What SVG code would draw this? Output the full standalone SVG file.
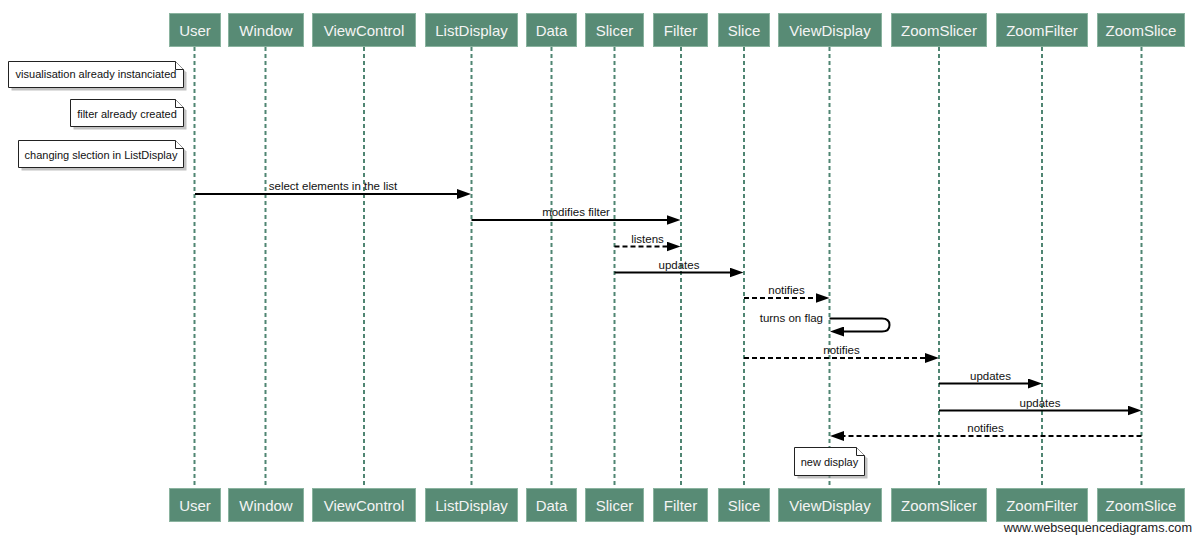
<svg xmlns="http://www.w3.org/2000/svg" width="1200" height="543" viewBox="0 0 1200 543">
<style>
.box{fill:#588b75;stroke:#8ab39f;stroke-width:1}
.ptxt{font-family:"Liberation Sans",Arial,sans-serif;font-size:15px;fill:#f4f4f4;text-anchor:middle}
.life{stroke:#4f8572;stroke-width:2;stroke-dasharray:4 3;fill:none}
.msg{stroke:#000;stroke-width:2;fill:none}
.dash{stroke-dasharray:5 3}
.lbl{font-family:"Liberation Sans",Arial,sans-serif;font-size:11.5px;fill:#111;text-anchor:middle}
.note{fill:#fff;stroke:#222;stroke-width:1}
.shadow{fill:#999;opacity:0.6}
.ntxt{font-family:"Liberation Sans",Arial,sans-serif;font-size:11px;fill:#111;text-anchor:middle}
.wm{font-family:"Liberation Sans",Arial,sans-serif;font-size:12.7px;fill:#222;text-anchor:end}
</style>
<defs>
<marker id="ah" markerUnits="userSpaceOnUse" markerWidth="14" markerHeight="10" viewBox="0 0 14 10" refX="4" refY="5" orient="auto">
<path d="M0,0 L14,5 L0,10 z" fill="#000"/>
</marker>
</defs>
<rect width="1200" height="543" fill="#fff"/>

<g id="User"><line class="life" x1="194.5" y1="47" x2="194.5" y2="488"/><rect class="box" x="169.5" y="13.5" width="51" height="33"/><text class="ptxt" x="195" y="35.5">User</text><rect class="box" x="169.5" y="488.5" width="51" height="33"/><text class="ptxt" x="195" y="510.5">User</text></g>
<g id="Window"><line class="life" x1="265.5" y1="47" x2="265.5" y2="488"/><rect class="box" x="228.5" y="13.5" width="75" height="33"/><text class="ptxt" x="266" y="35.5">Window</text><rect class="box" x="228.5" y="488.5" width="75" height="33"/><text class="ptxt" x="266" y="510.5">Window</text></g>
<g id="ViewControl"><line class="life" x1="364" y1="47" x2="364" y2="488"/><rect class="box" x="312.5" y="13.5" width="103" height="33"/><text class="ptxt" x="364" y="35.5">ViewControl</text><rect class="box" x="312.5" y="488.5" width="103" height="33"/><text class="ptxt" x="364" y="510.5">ViewControl</text></g>
<g id="ListDisplay"><line class="life" x1="471.5" y1="47" x2="471.5" y2="488"/><rect class="box" x="425.5" y="13.5" width="92" height="33"/><text class="ptxt" x="471.5" y="35.5">ListDisplay</text><rect class="box" x="425.5" y="488.5" width="92" height="33"/><text class="ptxt" x="471.5" y="510.5">ListDisplay</text></g>
<g id="Data"><line class="life" x1="551.5" y1="47" x2="551.5" y2="488"/><rect class="box" x="526.5" y="13.5" width="50" height="33"/><text class="ptxt" x="551.5" y="35.5">Data</text><rect class="box" x="526.5" y="488.5" width="50" height="33"/><text class="ptxt" x="551.5" y="510.5">Data</text></g>
<g id="Slicer"><line class="life" x1="614.5" y1="47" x2="614.5" y2="488"/><rect class="box" x="585.5" y="13.5" width="58" height="33"/><text class="ptxt" x="614.5" y="35.5">Slicer</text><rect class="box" x="585.5" y="488.5" width="58" height="33"/><text class="ptxt" x="614.5" y="510.5">Slicer</text></g>
<g id="Filter"><line class="life" x1="681" y1="47" x2="681" y2="488"/><rect class="box" x="653.5" y="13.5" width="54" height="33"/><text class="ptxt" x="680.5" y="35.5">Filter</text><rect class="box" x="653.5" y="488.5" width="54" height="33"/><text class="ptxt" x="680.5" y="510.5">Filter</text></g>
<g id="Slice"><line class="life" x1="744" y1="47" x2="744" y2="488"/><rect class="box" x="718.5" y="13.5" width="51" height="33"/><text class="ptxt" x="744" y="35.5">Slice</text><rect class="box" x="718.5" y="488.5" width="51" height="33"/><text class="ptxt" x="744" y="510.5">Slice</text></g>
<g id="ViewDisplay"><line class="life" x1="829.5" y1="47" x2="829.5" y2="488"/><rect class="box" x="778.5" y="13.5" width="103" height="33"/><text class="ptxt" x="830" y="35.5">ViewDisplay</text><rect class="box" x="778.5" y="488.5" width="103" height="33"/><text class="ptxt" x="830" y="510.5">ViewDisplay</text></g>
<g id="ZoomSlicer"><line class="life" x1="939" y1="47" x2="939" y2="488"/><rect class="box" x="891.5" y="13.5" width="95" height="33"/><text class="ptxt" x="939" y="35.5">ZoomSlicer</text><rect class="box" x="891.5" y="488.5" width="95" height="33"/><text class="ptxt" x="939" y="510.5">ZoomSlicer</text></g>
<g id="ZoomFilter"><line class="life" x1="1042" y1="47" x2="1042" y2="488"/><rect class="box" x="996.5" y="13.5" width="91" height="33"/><text class="ptxt" x="1042" y="35.5">ZoomFilter</text><rect class="box" x="996.5" y="488.5" width="91" height="33"/><text class="ptxt" x="1042" y="510.5">ZoomFilter</text></g>
<g id="ZoomSlice"><line class="life" x1="1141.5" y1="47" x2="1141.5" y2="488"/><rect class="box" x="1097.5" y="13.5" width="87" height="33"/><text class="ptxt" x="1141" y="35.5">ZoomSlice</text><rect class="box" x="1097.5" y="488.5" width="87" height="33"/><text class="ptxt" x="1141" y="510.5">ZoomSlice</text></g>

<g id="note1"><path class="shadow" d="M11.5,64.5 H178.5 L186.5,72.5 V90.5 H11.5 Z"/><path class="note" d="M8.5,61.5 H175.5 L183.5,69.5 V87.5 H8.5 Z"/><path class="note" d="M175.5,61.5 V69.5 H183.5"/><text class="ntxt" x="96" y="78">visualisation already instanciated</text></g>
<g id="note2"><path class="shadow" d="M73.5,102.5 H178.5 L186.5,110.5 V129.5 H73.5 Z"/><path class="note" d="M70.5,99.5 H175.5 L183.5,107.5 V126.5 H70.5 Z"/><path class="note" d="M175.5,99.5 V107.5 H183.5"/><text class="ntxt" x="127" y="117.5">filter already created</text></g>
<g id="note3"><path class="shadow" d="M21.5,143.5 H178.5 L186.5,151.5 V170.5 H21.5 Z"/><path class="note" d="M18.5,140.5 H175.5 L183.5,148.5 V167.5 H18.5 Z"/><path class="note" d="M175.5,140.5 V148.5 H183.5"/><text class="ntxt" x="101" y="158.5">changing slection in ListDisplay</text></g>
<g id="note4"><path class="shadow" d="M797.5,450.5 H859.5 L867.5,458.5 V478.5 H797.5 Z"/><path class="note" d="M794.5,447.5 H856.5 L864.5,455.5 V475.5 H794.5 Z"/><path class="note" d="M856.5,447.5 V455.5 H864.5"/><text class="ntxt" x="829.5" y="466">new display</text></g>

<g id="connectors">
<line class="msg" x1="195" y1="194" x2="461" y2="194" marker-end="url(#ah)"/>
<text class="lbl" x="333" y="190">select elements in the list</text>
<line class="msg" x1="471.5" y1="220" x2="670.5" y2="220" marker-end="url(#ah)"/>
<text class="lbl" x="576" y="216">modifies filter</text>
<line class="msg dash" x1="614.5" y1="246.5" x2="670.5" y2="246.5" marker-end="url(#ah)"/>
<text class="lbl" x="647.5" y="242.5">listens</text>
<line class="msg" x1="614.5" y1="272.5" x2="733.5" y2="272.5" marker-end="url(#ah)"/>
<text class="lbl" x="679" y="268.5">updates</text>
<line class="msg dash" x1="744" y1="298" x2="819.5" y2="298" marker-end="url(#ah)"/>
<text class="lbl" x="786.5" y="294">notifies</text>
<path class="msg" d="M829.5,318.5 H882 Q889.5,318.5 889.5,325 Q889.5,331.5 882,331.5 H840" marker-end="url(#ah)"/>
<text class="lbl" x="823" y="321.5" style="text-anchor:end">turns on flag</text>
<line class="msg dash" x1="744" y1="358" x2="929" y2="358" marker-end="url(#ah)"/>
<text class="lbl" x="841.5" y="354">notifies</text>
<line class="msg" x1="939" y1="383.5" x2="1032" y2="383.5" marker-end="url(#ah)"/>
<text class="lbl" x="990.5" y="379.5">updates</text>
<line class="msg" x1="939" y1="410.5" x2="1131.5" y2="410.5" marker-end="url(#ah)"/>
<text class="lbl" x="1040" y="406.5">updates</text>
<line class="msg dash" x1="1141.5" y1="436" x2="840" y2="436" marker-end="url(#ah)"/>
<text class="lbl" x="985.5" y="432">notifies</text>
</g>

<text class="wm" x="1192" y="532">www.websequencediagrams.com</text>
</svg>
